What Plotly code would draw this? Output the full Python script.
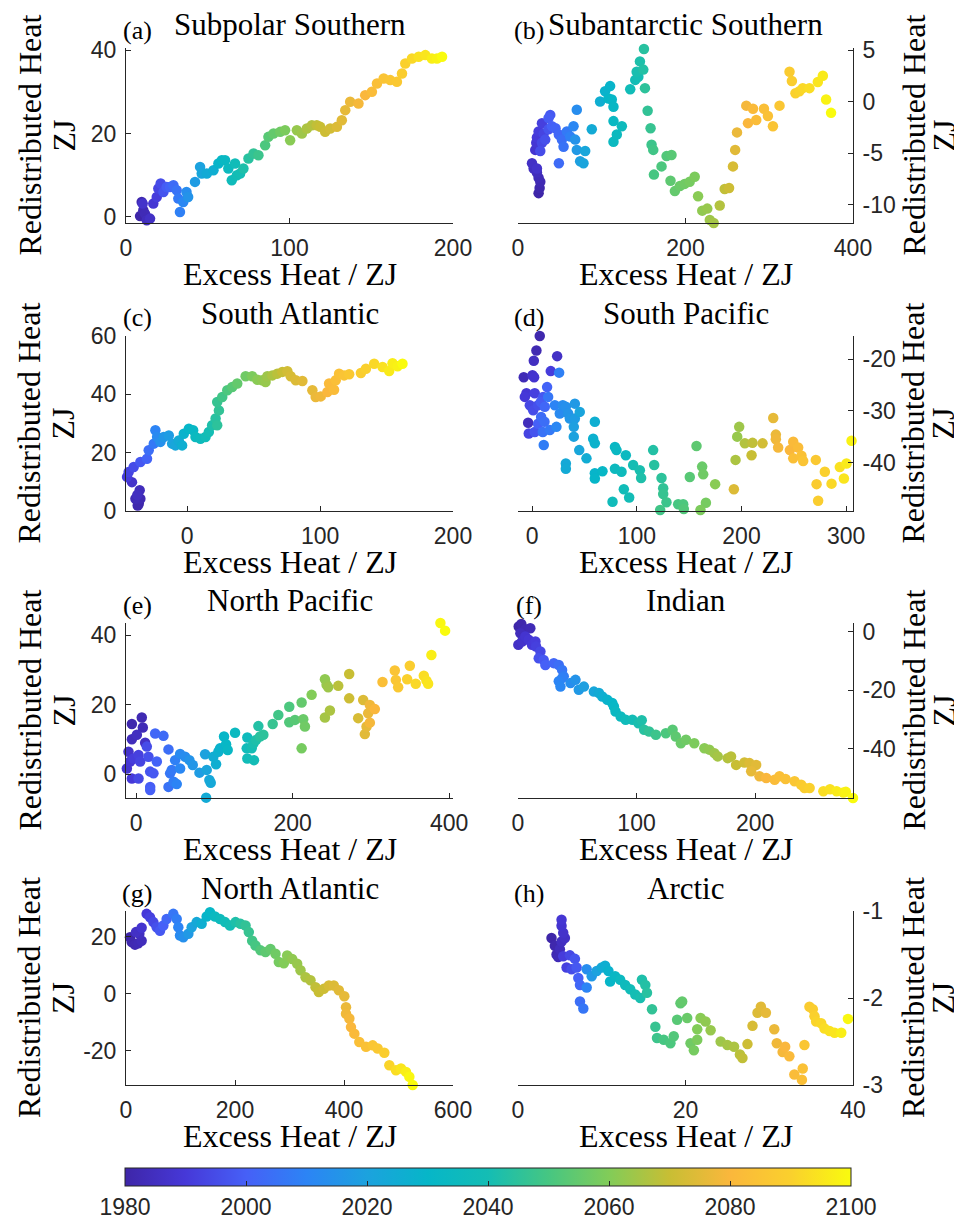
import plotly.graph_objects as go

# page is shown with an 8px body margin, so the figure is drawn 8px smaller
W, H = 962, 1223
OFF = 8
FW, FH = W - OFF, H - OFF

# ---------------- data ----------------
# (a) Subpolar Southern
a_yr = [1980,1981,1982,1983,1984,1985,1986,1987,1989,1991,1993,1995,1997,1999,2001,2003,2005,2007,2009,2011,
        2013,2015,2018,2020,2022,2024,2026,2029,2031,2033,2035,2037,2038,2039,2040,2042,2044,2046,2048,2051,
        2053,2055,2057,2059,2061,2063,2064,2066,2067,2069,2070,2071,2072,2074,2075,2076,2077,2079,2080,2082,
        2083,2085,2086,2087,2089,2090,2092,2094,2095,2097,2098,2100]
a_ex = [8.6,9.6,10.6,11.6,12.7,13.7,14.7,10.2,16.7,18.8,19.8,21.2,22.9,24.9,26.9,29,31,32,33,35,
        37,38,42.2,45.3,46.3,49.4,53.5,56.5,58.6,60.6,62.6,64.7,66.7,67.8,69.8,71.8,74.9,78,81,85.1,
        87.1,90.2,94.3,97.3,100.4,104.5,107.6,110.6,113.7,116.7,118.8,121.8,124.9,129,132,134.1,137.1,142.2,146.3,150.4,
        153.5,157.6,161.6,165.7,168.8,170.8,174.9,179,183.1,187.1,190.2,193.3]
a_rd = [0.2,3.6,1.6,0.8,-0.8,-1.8,-0.4,3.2,3.2,4.8,6.8,8,6,7.2,7.2,7.6,6.4,4.4,1.2,3.6,
        6,4.8,8.4,12,10.4,10.4,11.2,12.8,13.6,13.6,11.6,8.8,12.8,10,10.4,11.6,14,15.2,14.8,17.2,
        19.2,20,20.4,20.8,18.4,20.8,20,21.2,22,22,21.6,20.4,21.2,21.6,23.2,25.6,27.6,27.2,29.2,30,
        32,33.2,32.8,32.4,34.4,36.8,38,38.4,38.8,38,38,38.4]

# (b) Subantarctic Southern
b_yr = [1980,1981,1982,1983,1984,1985,1986,1987,1988,1989,1990,1991,1992,1993,1994,1995,1996,1997,1998,1999,
        2000,2001,2002,2003,2004,2005,2007,2009,2011,2013,2015,2017,2019,2021,2022,2024,2026,2028,2029,2030,
        2031,2032,2033,2034,2035,2036,2038,2039,2040,2041,2042,2043,2044,2045,2046,2047,2048,2049,2050,2051,
        2052,2053,2054,2055,2056,2057,2058,2059,2061,2062,2063,2064,2065,2067,2069,2071,2073,2075,2077,2079,
        2080,2081,2082,2083,2084,2085,2086,2088,2089,2090,2091,2092,2093,2095,2096,2098,2100]
b_ex = [24.6,25.8,26.6,24.6,22.6,18.7,16.7,22.6,20.6,21.8,22.6,24.6,28.6,30.6,28.6,26.6,32.5,36.5,38.5,36.5,
        40.5,44.8,48.8,48.8,52.4,54.4,58.3,62.3,66.3,70.2,68.3,70.2,74.2,78.2,80.2,88.1,98,104,110,108,
        112,114,114,114,118,124,134,140,143.7,141.7,145.6,149.6,150.4,151.6,154.8,158.3,159.5,161.5,162.3,171.4,
        177.4,183.3,182.1,187.3,193.3,199,205,211,215,220,226,229,233.7,240.9,246.8,252,256.7,259.3,261.5,272.6,
        274.6,280.6,284.5,293.7,298.4,304.4,312.3,324.2,327,331.3,336,340,348,358,364,367.9,373.8]
b_rd = [-8.9,-8.4,-7.8,-7.4,-6.9,-6.5,-6.0,-6.5,-4.7,-4.0,-3.5,-2.9,-2.1,-3.1,-4.0,-4.8,-3.7,-2.7,-1.3,-1.6,
        -2.4,-2.6,-3.2,-6.0,-3.7,-4.4,-2.9,-3.4,-2.4,-0.8,-3.7,-4.7,-5.8,-6.0,-4.8,-2.7,0.0,1.0,1.5,0.3,
        0.2,-0.5,-1.9,-3.9,-3.2,-2.4,1.2,2.1,2.4,2.9,3.9,3.1,5.1,1.3,-0.9,-2.6,-4.2,-4.7,-7.1,-6.3,
        -5.3,-5.2,-7.7,-8.7,-8.2,-8.0,-7.8,-7.3,-9.2,-10.6,-10.4,-11.5,-11.8,-10.1,-8.5,-8.4,-6.3,-4.7,-3.0,-0.4,
        -2.1,-0.7,-1.8,-0.7,-1.4,-2.4,-0.4,2.9,2.0,0.8,1.0,1.3,1.3,1.9,2.5,0.2,-1.1]

# (c) South Atlantic
c_yr = [1980,1981,1982,1983,1984,1985,1987,1989,1991,1993,1995,1998,2001,2004,2007,2010,2012,2014,2016,2018,
        2020,2022,2024,2026,2028,2030,2032,2034,2036,2038,2040,2042,2044,2045,2046,2047,2049,2051,2053,2055,
        2057,2059,2061,2062,2063,2064,2066,2068,2070,2072,2073,2074,2075,2076,2077,2078,2080,2081,2082,2083,
        2084,2085,2087,2089,2090,2092,2094,2096,2097,2098,2100]
c_ex = [-36.4,-37.2,-35.2,-38.9,-35.7,-37.5,-41.5,-46.5,-45.2,-44,-40.2,-35.2,-30.2,-28.9,-25.1,-23.9,-22.6,-20.1,-17.6,-13.8,
        -11.3,-8.8,-6.3,-3.8,-2.5,1.3,4.5,6.3,10,13.8,16.3,18.8,21.4,22.6,23.9,22.6,26.4,30.2,33.9,37.7,
        44,48.9,52.8,56.5,59,60.3,64.1,67.8,71.6,75.4,77.9,81.7,86.7,94.2,96.7,100.5,105.5,106.8,110.5,111.8,
        114.3,118.1,121.9,130.7,134.5,140.7,147,152,154.5,158.3,162]
c_rd = [2.5,1.9,4.2,4.2,7.1,5.5,9.9,7.3,11.7,13.4,15.1,16.8,17.9,20.8,23.1,27.7,25.4,23.7,25.4,25.9,
        23.1,22.5,24.2,22.5,26.5,28.2,27.7,25.4,24.8,25.4,27.1,29.4,31.7,29.4,34.5,37.4,39.1,41.4,42.5,43.7,
        46.2,46.2,45,44.8,44.2,46.2,46.5,47.1,47.7,47.9,46.2,44.8,44.6,41.4,39.1,39.3,40.8,43.7,41.6,44.8,
        47.1,46.5,46.9,47.3,48.8,50.5,49.4,48,50.7,49.6,50.5]

# (d) South Pacific
d_yr = [1980,1981,1982,1983,1984,1985,1986,1987,1988,1989,1990,1991,1992,1993,1994,1995,1996,1997,1998,1999,
        2000,2001,2002,2003,2004,2005,2006,2007,2008,2009,2010,2011,2012,2013,2014,2015,2016,2017,2018,2019,
        2020,2021,2022,2023,2024,2025,2026,2027,2028,2029,2030,2031,2032,2033,2034,2035,2036,2037,2038,2039,
        2040,2041,2042,2043,2044,2045,2046,2047,2048,2049,2050,2051,2052,2053,2054,2056,2057,2058,2059,2061,
        2063,2064,2066,2067,2069,2070,2072,2074,2076,2077,2078,2079,2080,2081,2082,2083,2084,2085,2087,2088,
        2089,2090,2092,2094,2095,2096,2098,2100]
d_ex = [-14.3,7.3,4.1,-8,-3.8,1.6,23.9,0.3,1.9,-5.4,-7,17.8,2.5,-3.2,-2.2,1,5.7,2.5,10.5,8.3,
        5.7,14.3,12.1,8.6,11.8,10.2,15.3,16.9,11.1,25.8,21.7,23.2,26.4,29.3,32.2,34.4,36,40.8,40.8,39.8,
        39.8,45.5,45,32.2,32.2,51.9,59.9,58.3,59.9,59.9,59.9,67.2,79.1,80.6,89.5,79.1,85.4,76.8,87.6,92.7,
        96.5,102.9,104.1,115.6,116.6,123.6,125.2,125.2,128.3,122.3,139.5,144.3,144.9,150.6,157,162.4,163.4,166,160.8,174.8,
        195.9,197.8,194.3,203.2,210.5,209.6,220.1,192.7,230.3,232.8,232.8,235,246.2,249.4,254.1,249.4,257.3,258.9,271,271.7,
        273.2,279.6,286,293.9,297.8,300.3,305.1,306.7]
d_rd = [-25.2,-15.5,-18.3,-23.5,-32.3,-20.3,-19.4,-23.1,-23.5,-26.6,-27.3,-22.3,-26.6,-34.4,-28.9,-29.9,-28.9,-34.1,-27.3,-28.3,
        -32.5,-25.4,-29.2,-31.2,-32.1,-34.1,-27.3,-33.7,-36.6,-22.6,-28.9,-33.1,-30.5,-28.9,-29.2,-30.5,-31.5,-28.6,-31.5,-33.1,
        -35,-30.2,-37.6,-40.2,-41.2,-39.2,-32.1,-35.4,-36.3,-42.1,-43.1,-41.7,-37,-37.6,-38.6,-41.2,-41.8,-47.6,-45.2,-46.8,
        -40.5,-41.5,-43,-37.6,-40.5,-43,-45,-46.1,-47.7,-49.2,-48.1,-48.1,-49,-42.8,-36.8,-40.8,-42.3,-47.8,-49.2,-44.2,
        -35,-33.1,-39.5,-36.3,-36.2,-38.6,-36.3,-45.2,-31.4,-34.6,-35.5,-37.1,-37.6,-36,-37.1,-39.2,-38.7,-39.7,-39.5,-44.2,
        -47.4,-41.8,-44.1,-40.9,-43.1,-40.2,-35.8,-45.5]

# (e) North Pacific
e_yr = [1980,1981,1982,1983,1984,1985,1986,1987,1988,1989,1990,1991,1992,1993,1994,1995,1996,1997,1998,1999,
        2000,2001,2002,2003,2004,2005,2006,2007,2008,2009,2010,2011,2012,2013,2015,2016,2018,2020,2021,2022,
        2023,2024,2025,2026,2027,2028,2030,2031,2032,2034,2036,2037,2038,2039,2040,2041,2042,2043,2044,2045,
        2047,2049,2051,2052,2053,2055,2056,2057,2058,2060,2062,2063,2064,2065,2066,2068,2070,2071,2073,2074,
        2075,2076,2077,2078,2079,2080,2083,2085,2086,2087,2089,2090,2092,2093,2094,2095,2097,2099,2100]
e_ex = [-14,-5.5,7.2,8.5,-5.5,0.9,11.5,-9.8,-11.9,-7.7,-5.5,-3.4,3,5.1,3,13.6,15.7,17.9,22.1,17.9,
        17.9,26.4,24.3,34.9,41.3,41.3,43.4,45.5,47.9,49.8,51.9,56.2,56.2,62.6,68.1,72.3,80.9,88.1,90.2,93.6,
        95.3,89.4,98.7,102.1,105.1,107.2,112.3,114.9,117,126.4,142.1,141.3,142.1,150.6,147.7,149.8,153.2,156.2,158.3,162.6,
        174.5,181.7,195.7,195.7,203,211.5,213.6,215.7,211.5,224.3,241.3,243.4,245.5,241.3,247.7,258.3,272.3,272.3,283.8,290.2,
        292.3,294.5,296.6,298.7,298.7,305.1,314.9,330.6,331.9,334.9,349.8,346.4,357.4,367.7,371.1,373.2,377.4,388.9,394.9]
e_rd = [6.4,14.4,16.3,13.4,10,11.3,9,6.4,1.6,3.6,-1.3,4.5,5.5,3.6,-1.3,7.9,5,0.7,0.2,-3.7,
        -4.6,3.6,11.7,11,7.1,-3.7,0.2,1.2,-2.2,4,-2.9,1.6,5.8,5,4,2.6,0.4,5.7,1.2,-1.7,
        -2.5,-6.8,5,2.8,6.4,7.4,10.8,8.6,6.9,11.9,10.5,7.4,4.5,4,7.4,8.8,9.8,13.8,10.8,11.3,
        14.4,17,19.4,14.9,15.6,20.6,15.8,13.7,7.4,22.8,27.3,25.7,25,16.3,18.3,25.4,28.8,21.8,16.1,21.3,
        11.5,13.7,17.5,19.9,14.8,18.7,26.5,29.8,27.1,25,31.2,27.3,26,28.3,26.9,26,34.3,43.5,41.3]

# (f) Indian
f_yr = [1980,1981,1982,1983,1984,1986,1987,1988,1989,1990,1991,1992,1994,1996,1998,2000,2002,2004,2006,2008,
        2009,2010,2011,2013,2015,2017,2019,2022,2024,2026,2028,2030,2031,2033,2035,2037,2039,2041,2042,2044,
        2046,2048,2051,2053,2054,2056,2057,2059,2061,2062,2064,2065,2067,2068,2070,2072,2074,2075,2076,2078,
        2080,2082,2083,2084,2086,2088,2089,2090,2093,2094,2096,2097,2098,2100]
f_ex = [0.6,2.8,6.2,10.4,2,0.3,3.4,6.2,9,11.8,14.7,15.2,18.9,17.5,21.7,23.1,30.2,34.4,37.2,38.6,
        37.2,34.4,35.8,44.3,48.5,51.3,55.6,64,68.3,71.1,75.3,79.5,80.9,82.3,86.6,90.8,96.5,101.6,104.4,106.4,
        110.6,116.3,124.7,130.4,133.1,137.4,141.7,148.7,157.2,161.4,165.7,168.5,176.9,179.7,184,191,195.3,200.9,196.7,203.7,
        209.4,216.5,220.6,225.7,233.3,238.9,241.7,246,257.6,263.2,268.8,274.5,276.6,282.6]
f_rd = [1.7,2.6,0.8,1.1,-0.6,-4.5,-3.4,-1.7,-2.8,-4.5,-3.4,-5.1,-6.8,-9.1,-9.7,-11.4,-10.8,-11.4,-13.1,-15.3,
        -15.9,-17,-18.8,-17.6,-16.5,-19.9,-18.8,-20.5,-21,-22.2,-23.3,-24.4,-25.6,-27.3,-29,-30.1,-30.1,-31.3,-30.3,-33.5,
        -34.1,-35.2,-34.7,-33.5,-35.8,-38.1,-36.9,-38.1,-39.8,-40.3,-41.5,-42.6,-43.2,-42.6,-45.5,-44.7,-44.9,-45.5,-47.7,-49.4,
        -50,-50.6,-49.4,-50.3,-51.1,-52.3,-53.4,-53.4,-54.5,-53.8,-54.5,-54.9,-54.7,-56.8]

# (g) North Atlantic
g_yr = [1980,1981,1982,1983,1984,1985,1986,1988,1990,1992,1994,1996,1998,2000,2002,2004,2006,2008,2010,2012,
        2014,2017,2020,2023,2026,2029,2031,2034,2036,2038,2040,2042,2044,2046,2047,2049,2050,2052,2054,2055,
        2057,2058,2060,2061,2062,2063,2064,2066,2067,2069,2070,2071,2073,2074,2075,2076,2077,2078,2079,2080,
        2081,2083,2084,2086,2087,2089,2091,2093,2095,2097,2099,2100]
g_ex = [7.3,10.4,16.5,22.6,28.7,24.5,18.3,28.7,37.9,44,50.2,56.3,62.4,68.5,74.6,79.5,86.8,93,96,99.1,
        105.2,114.4,120.5,129.7,138.8,148,154.1,163.3,172.5,181.7,190.8,201,210.1,219.3,225.4,231.5,237.6,246.8,256,265.1,
        274.3,280.4,289.6,295.7,304.9,314.1,320.2,329.4,338.5,347.7,353.8,363,372.2,381.3,390.5,400.6,403.7,403.7,409.8,412.8,
        419,428.1,440.4,452.6,461.8,474,483.2,495.4,504.6,513.8,519.9,526]
g_rd = [19.8,18.1,17.2,17.7,18.6,21,21.6,23.1,28,26.8,25.1,23.3,22.1,23.9,26.2,29.1,28,26.2,23.3,20.4,
        19.8,21,23.3,25.1,24.5,27.1,28.6,27.1,26.2,25.1,23.9,25.1,24.5,23.9,21.6,18.6,16.9,15.2,14.6,15.7,
        14,11.1,10.7,13.4,12.2,10.5,8.2,5.8,4.7,2.3,0.6,1.7,2.9,2.9,1.2,-0.9,-4.7,-7,-8.7,-11.7,
        -14,-16.9,-18.6,-18.1,-19.2,-20.7,-25.1,-26.8,-26.2,-27.4,-29.1,-32]

# (h) Arctic
h_yr = [1980,1981,1982,1983,1984,1985,1986,1987,1988,1989,1991,1992,1994,1995,1997,1998,2000,2002,2004,2006,
        2010,2013,2017,2020,2023,2026,2028,2030,2032,2034,2036,2038,2040,2041,2042,2043,2044,2046,2047,2048,
        2050,2051,2052,2053,2054,2055,2056,2057,2058,2059,2060,2061,2062,2063,2064,2065,2066,2068,2069,2071,
        2073,2074,2075,2076,2077,2078,2079,2080,2081,2082,2083,2084,2086,2088,2089,2090,2091,2092,2093,2094,
        2095,2097,2099,2100]
h_ex = [4,4.4,4.6,4.8,5,5.2,5.6,5.4,5.2,5.2,5.4,5.8,6.2,6.4,6.8,7,7.2,7.4,7.4,7.8,
        8.2,8.2,8.8,9.4,10,10.4,10.8,11,11.6,12.2,12.8,13.4,14,14.6,14.8,15.2,15.4,16,16.4,16.6,
        17.4,18.2,18.6,19,19.4,19.6,20.2,20.6,21,21.4,21.4,21.8,22.4,23,24.2,25,25.8,26.5,26.8,27.4,
        28,28.6,29,29.6,30.6,30.9,31.6,31.9,32.4,33,33.9,34,34.2,34.8,35.2,35.4,35.6,36.2,36.6,37.2,
        37.8,38.6,39.4,40.2]
h_rd = [-1.31,-1.4,-1.5,-1.53,-1.44,-1.35,-1.31,-1.25,-1.17,-1.1,-1.52,-1.65,-1.51,-1.67,-1.55,-1.65,-1.77,-1.85,-2.04,-2.12,
        -1.88,-1.67,-1.75,-1.69,-1.65,-1.63,-1.69,-1.81,-1.75,-1.79,-1.85,-1.9,-1.96,-2.0,-1.79,-1.85,-1.94,-2.13,-2.33,-2.46,
        -2.48,-2.52,-2.44,-2.25,-2.06,-2.04,-2.23,-2.52,-2.6,-2.48,-2.36,-2.23,-2.27,-2.37,-2.5,-2.54,-2.56,-2.65,-2.69,-2.53,
        -2.32,-2.17,-2.1,-2.17,-2.36,-2.52,-2.62,-2.56,-2.67,-2.88,-2.94,-2.81,-2.54,-2.1,-2.13,-2.21,-2.27,-2.29,-2.35,-2.38,
        -2.4,-2.4,-2.24,-2.28]

labels = ["(a)", "(b)", "(c)", "(d)", "(e)", "(f)", "(g)", "(h)"]
titles = ["Subpolar Southern", "Subantarctic Southern", "South Atlantic", "South Pacific",
          "North Pacific", "Indian", "North Atlantic", "Arctic"]
cbar_ticks = [1980, 2000, 2020, 2040, 2060, 2080, 2100]

series = [(a_ex, a_rd, a_yr), (b_ex, b_rd, b_yr), (c_ex, c_rd, c_yr), (d_ex, d_rd, d_yr),
          (e_ex, e_rd, e_yr), (f_ex, f_rd, f_yr), (g_ex, g_rd, g_yr), (h_ex, h_rd, h_yr)]

# ---------------- axis settings ----------------
x_ranges = [[0, 200], [0, 400], [-46, 200], [-13.5, 306.5], [-13, 405], [0, 282.6], [0, 600], [0, 40]]
y_ranges = [[-1.45, 40.5], [-11.8, 5.2], [0, 60], [-49.4, -15.5], [-6.9, 43.5], [-56.8, 2.9], [-32, 29], [-3, -1]]
x_ticks = [[0, 100, 200], [0, 200, 400], [0, 100, 200], [0, 100, 200, 300], [0, 200, 400], [0, 100, 200],
           [0, 200, 400, 600], [0, 20, 40]]
y_ticks = [[0, 20, 40], [-10, -5, 0, 5], [0, 20, 40, 60], [-40, -30, -20], [0, 20, 40], [-40, -20, 0],
           [-20, 0, 20], [-3, -2, -1]]

parula = [
    [0.000, "rgb(62,38,168)"],
    [0.083, "rgb(70,56,216)"],
    [0.167, "rgb(70,96,247)"],
    [0.250, "rgb(44,132,245)"],
    [0.333, "rgb(28,162,222)"],
    [0.417, "rgb(6,182,200)"],
    [0.500, "rgb(20,189,180)"],
    [0.583, "rgb(70,198,130)"],
    [0.667, "rgb(130,204,88)"],
    [0.750, "rgb(200,190,52)"],
    [0.833, "rgb(250,183,60)"],
    [0.917, "rgb(250,208,45)"],
    [1.000, "rgb(249,251,14)"],
]

# pixel geometry of the axes boxes (page pixels)
col_x = [(126, 453), (518, 853)]
row_y = [(48, 223), (336, 511), (623, 798), (911, 1085)]
ylab_x = [(29, 63), (913, 943)]


def px(x):
    return (x - OFF) / FW


def py(y):
    return 1 - (y - OFF) / FH


AX = "#262626"
TICKFONT = dict(family="Liberation Sans, Arial, sans-serif", size=23, color=AX)
SERIF = "Liberation Serif, Times New Roman, serif"

fig = go.Figure()
layout = dict(
    width=FW, height=FH,
    margin=dict(l=0, r=0, t=0, b=0, autoexpand=False),
    paper_bgcolor="white", plot_bgcolor="white",
    showlegend=False,
)
annotations = []

for i, (ex, rd, yr) in enumerate(series):
    r, c = divmod(i, 2)
    x0, x1 = col_x[c]
    yt, yb = row_y[r]
    k = "" if i == 0 else str(i + 1)
    marker = dict(color=yr, colorscale=parula, cmin=1980, cmax=2100, size=10.5, line=dict(width=0), opacity=1)
    if i == 0:
        marker["showscale"] = True
        marker["colorbar"] = dict(
            orientation="h", x=px(488), xanchor="center", y=py(1168), yanchor="top",
            len=726 / FW, lenmode="fraction", thickness=18, thicknessmode="pixels",
            outlinewidth=1, outlinecolor=AX, ticks="inside", ticklen=5, tickcolor=AX,
            tickvals=cbar_ticks, ticktext=[str(t) for t in cbar_ticks],
            tickfont=TICKFONT, xpad=0, ypad=0,
        )
    fig.add_trace(go.Scatter(x=ex, y=rd, mode="markers", marker=marker, cliponaxis=False,
                             xaxis="x" + k, yaxis="y" + k, hoverinfo="skip"))
    common = dict(showline=True, linecolor=AX, linewidth=1, ticks="inside", ticklen=5, tickwidth=1,
                  tickcolor=AX, showgrid=False, zeroline=False, tickfont=TICKFONT)
    layout["xaxis" + k] = dict(domain=[px(x0), px(x1)], anchor="y" + k, range=x_ranges[i],
                               tickvals=x_ticks[i], ticktext=[str(t) for t in x_ticks[i]],
                               ticklabelstandoff=4, **common)
    layout["yaxis" + k] = dict(domain=[py(yb), py(yt)], anchor="x" + k, range=y_ranges[i],
                               side="left" if c == 0 else "right",
                               tickvals=y_ticks[i], ticktext=[str(t) for t in y_ticks[i]],
                               ticklabelstandoff=4, **common)
    xc = (x0 + x1) / 2
    ym = (yt + yb) / 2
    # title
    annotations.append(dict(text=titles[i], x=px(xc), y=py(yt - 23), xref="paper", yref="paper",
                            xanchor="center", yanchor="middle", showarrow=False,
                            font=dict(family=SERIF, size=31, color="black")))
    # panel letter
    lx = 137 if c == 0 else 529
    annotations.append(dict(text=labels[i], x=px(lx), y=py(yt - 18), xref="paper", yref="paper",
                            xanchor="center", yanchor="middle", showarrow=False,
                            font=dict(family=SERIF, size=26, color="black")))
    # x label
    annotations.append(dict(text="Excess Heat / ZJ", x=px(xc), y=py(yb + 51), xref="paper", yref="paper",
                            xanchor="center", yanchor="middle", showarrow=False,
                            font=dict(family=SERIF, size=32, color="black")))
    # y label (two lines)
    l1, l2 = ylab_x[c]
    annotations.append(dict(text="Redistributed Heat", x=px(l1), y=py(ym), xref="paper", yref="paper",
                            xanchor="center", yanchor="middle", textangle=-90, showarrow=False,
                            font=dict(family=SERIF, size=32, color="black")))
    annotations.append(dict(text="ZJ", x=px(l2), y=py(ym), xref="paper", yref="paper",
                            xanchor="center", yanchor="middle", textangle=-90, showarrow=False,
                            font=dict(family=SERIF, size=32, color="black")))

layout["annotations"] = annotations
fig.update_layout(**layout)
fig.write_html("out.html")
